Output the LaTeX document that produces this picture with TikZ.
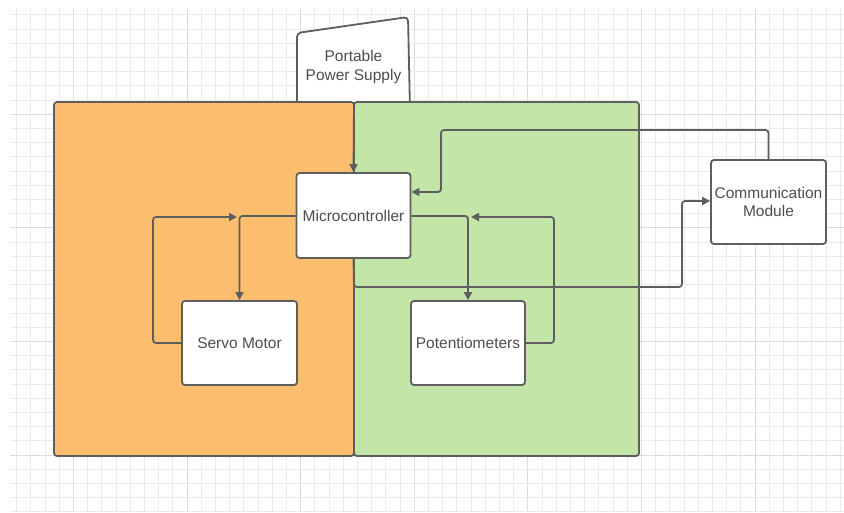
\documentclass[tikz,border=0pt]{standalone}
\usepackage{fontspec}
\setmainfont{Liberation Sans}
\usetikzlibrary{arrows.meta}
\definecolor{gridminor}{HTML}{EBEBEB}
\definecolor{gridmajor}{HTML}{DCDCDC}
\definecolor{panelorange}{HTML}{FCBE6E}
\definecolor{panelgreen}{HTML}{C3E5A8}
\definecolor{labeltext}{HTML}{4D4D4D}
\definecolor{linegray}{HTML}{5E5E5E}
\tikzset{
  edge/.style={draw=linegray, line width=1.8pt},
  panel/.style={rectangle, rounded corners=3pt, edge, minimum width=#1},
  block/.style={rectangle, rounded corners=3pt, edge, fill=white,
    minimum width=114pt, minimum height=84pt, inner sep=0pt,
    text=labeltext, align=center,
    font=\fontsize{15.5}{18.5}\selectfont},
  link/.style={edge, rounded corners=3pt,
    -{Triangle[length=8pt,width=8pt]}},
}
\begin{document}
\begin{tikzpicture}[x=1pt, y=-1pt]
  \useasboundingbox (0,0) rectangle (844,512);
  \fill[white] (0,0) rectangle (844,512);

  % background grid
  \foreach \k in {-52,...,6} {
    \pgfmathsetmacro{\gx}{755+14.2*\k}
    \pgfmathtruncatemacro{\m}{mod(\k+64,8)}
    \ifnum\m=0
      \draw[gridmajor, line width=1pt] (\gx,8) -- (\gx,512);
    \else
      \draw[gridminor, line width=0.8pt] (\gx,8) -- (\gx,512);
    \fi
  }
  \foreach \k in {-31,...,4} {
    \pgfmathsetmacro{\gy}{455+14.2*\k}
    \pgfmathtruncatemacro{\m}{mod(\k+64,8)}
    \ifnum\m=0
      \draw[gridmajor, line width=1pt] (10,\gy) -- (844,\gy);
    \else
      \draw[gridminor, line width=0.8pt] (10,\gy) -- (844,\gy);
    \fi
  }

  % portable power supply (manual input shape)
  \draw[edge, fill=white, rounded corners=4pt]
    (297,110) -- (297,33) -- (408,17) -- (410,110);
  \node[text=labeltext, align=center, font=\fontsize{15.5}{19}\selectfont]
    (power) at (353.5,67) {Portable\\Power Supply};

  % two coloured panels
  \node[panel=300pt, minimum height=354pt, fill=panelorange] (left) at (204,279) {};
  \node[panel=285pt, minimum height=354pt, fill=panelgreen] (right) at (496.5,279) {};
  \draw[edge] (354,102) -- (354,456);

  % blocks
  \node[block, minimum width=114pt, minimum height=85pt] (mcu) at (353.5,215.5) {Microcontroller};
  \node[block, minimum width=115pt, minimum height=84pt] (servo) at (239.5,343) {Servo Motor};
  \node[block, minimum width=114pt, minimum height=84pt] (pot) at (468,343) {Potentiometers};
  \node[block, minimum width=115pt, minimum height=84pt] (comm) at (768.5,202) {Communication\\Module};

  \coordinate (psbot) at (354,102);

  % connectors
  \draw[link] (psbot) -- (mcu.north);
  \draw[link] (comm.north) |- (441,130) -- (441,192) -- (mcu.east |- 0,192);
  \draw[link] (mcu.west |- 0,216) -- (239.5,216) -- (servo.north);
  \draw[link] (servo.west) -- (153,343) -- (153,217) -- (237,217);
  \draw[link] (mcu.east |- 0,216) -- (468,216) -- (pot.north);
  \draw[link] (pot.east) -- (554,343) -- (554,217) -- (471,217);
  \draw[link] (mcu.south) -- (354,287) -- (682,287) -- (682,201) -- (comm.west |- 0,201);
\end{tikzpicture}
\end{document}
